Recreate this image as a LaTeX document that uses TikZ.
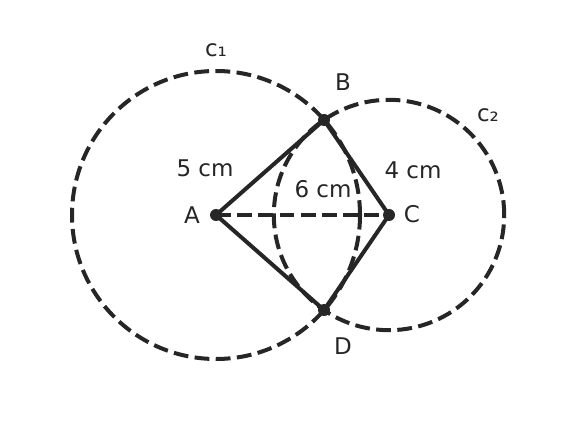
\documentclass[tikz,border=0pt]{standalone}
\usepackage{fontspec}
\setmainfont{DejaVu Sans}
\usepackage{tikz}
\usetikzlibrary{positioning}
\definecolor{ink}{HTML}{262626}

\begin{document}
\begin{tikzpicture}[x=0.5pt,y=-0.5pt,line width=2pt,draw=ink,
    dashline/.style={dash pattern=on 7.4pt off 3.2pt},
    pt/.style={circle,fill=ink,inner sep=0pt,minimum size=6pt},
    lbl/.style={text=ink,font=\fontsize{11.5}{13}\selectfont,inner sep=0pt}]
      \useasboundingbox (0,0) rectangle (576,432);
      % points
      \coordinate (A) at (216,215);
      \coordinate (C) at (389,215);
      \coordinate (B) at (324,120);
      \coordinate (D) at (324,310);

      % circles
      \draw[dashline] (A) circle[radius=72pt];
      \draw[dashline] (C) circle[radius=57.6pt];

      % sides
      \draw[dashline] (A) -- (C);
      \draw (A) -- (B) -- (C) -- (D) -- (A);

      \node[pt] (pA) at (A){};
      \node[pt] (pB) at (B){};
      \node[pt] (pC) at (C){};
      \node[pt] (pD) at (D){};

      % labels
      \node[lbl] at (192,215){A};
      \node[lbl] at (343,82){B};
      \node[lbl] at (412,214){C};
      \node[lbl] at (343,346){D};
      \node[lbl] at (216,50){c₁};
      \node[lbl] at (488,115){c₂};
      \node[lbl] at (205,168){5 cm};
      \node[lbl] at (323,189){6 cm};
      \node[lbl] at (413,170){4 cm};
    \end{tikzpicture}
\end{document}
